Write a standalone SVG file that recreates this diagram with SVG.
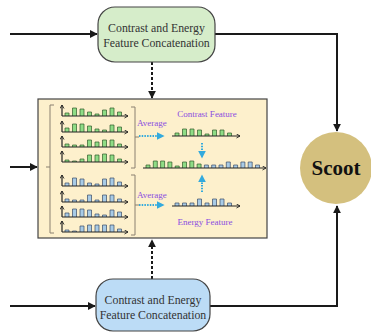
<svg xmlns="http://www.w3.org/2000/svg" width="371" height="333" viewBox="0 0 371 333">
<style>
.line{fill:none;stroke:#1a1a1a;stroke-width:2}
.dash{fill:none;stroke:#1a1a1a;stroke-width:2;stroke-dasharray:3 2}
.ax{fill:none;stroke:#222;stroke-width:1.2}
.gb{fill:#8fdc86;stroke:#2f5a2a;stroke-width:0.7}
.bb{fill:#a8cbe6;stroke:#3a4a66;stroke-width:0.7}
.brk{fill:none;stroke:#8a8070;stroke-width:1}
.dot{fill:none;stroke:#33aadd;stroke-width:2;stroke-dasharray:1.5 1.2}
.nt{font-family:"Liberation Serif",serif;font-size:11.8px;fill:#333;text-anchor:middle}
.pt{font-family:"Liberation Serif",serif;font-size:9px;fill:#8a4de0}
</style>
<defs>
<marker id="ah" viewBox="0 0 10 10" refX="9" refY="5" markerWidth="4" markerHeight="4" orient="auto"><path d="M0,0 L10,5 L0,10 Z" fill="#1a1a1a"/></marker>
<marker id="sh" viewBox="0 0 10 10" refX="8" refY="5" markerWidth="5" markerHeight="5" orient="auto" markerUnits="userSpaceOnUse"><path d="M1,1 L8,5 L1,9" fill="none" stroke="#222" stroke-width="1.8"/></marker>
<marker id="bh" viewBox="0 0 10 10" refX="8" refY="5" markerWidth="4" markerHeight="4" orient="auto"><path d="M0,0 L10,5 L0,10 Z" fill="#33aadd"/></marker>
</defs>

<g id="connectors">
<path class="line" d="M10,34 H97" marker-end="url(#ah)"/>
<path class="line" d="M215,34 H337 V131" marker-end="url(#ah)"/>
<path class="line" d="M10,306 H95" marker-end="url(#ah)"/>
<path class="line" d="M210,306 H337 V206" marker-end="url(#ah)"/>
<path class="line" d="M10,167 H37" marker-end="url(#ah)"/>
<path class="dash" d="M152,62 V98" marker-end="url(#ah)"/>
<path class="dash" d="M152,279 V240" marker-end="url(#ah)"/>
</g>

<g id="node-top">
<rect x="98" y="7" width="117" height="55" rx="17" fill="#d6edca" stroke="#444" stroke-width="1.2"/>
<text class="nt" x="156.5" y="32">Contrast and Energy</text>
<text class="nt" x="156.5" y="47">Feature Concatenation</text>
</g>

<g id="node-bottom">
<rect x="96" y="279" width="114" height="52" rx="17" fill="#bcdcf6" stroke="#444" stroke-width="1.2"/>
<text class="nt" x="153" y="304">Contrast and Energy</text>
<text class="nt" x="153" y="319">Feature Concatenation</text>
</g>

<g id="node-scoot">
<circle cx="336" cy="168" r="36" fill="#d4c07e"/>
<text x="336" y="175" font-family="Liberation Serif,serif" font-size="21" font-weight="bold" fill="#111" text-anchor="middle">Scoot</text>
</g>

<g id="node-features">
<rect x="38" y="99" width="229" height="139" fill="#fdf0cc" stroke="#444" stroke-width="1.2"/>
<path class="brk" d="M54,105 H50 V233 H54 M46,167 H50"/>
<path class="brk" d="M131,107 H135 V168 H131 M135,137 H139"/>
<path class="brk" d="M131,175 H135 V235 H131 M135,205 H139"/>

<g id="g1">
<path class="gb" d="M65,116 v-3 h4 v3 M72.5,116 v-8 h4 v8 M80,116 v-7 h4 v7 M87.5,116 v-4 h4 v4 M95,116 v-2 h4 v2 M102.5,116 v-6 h4 v6 M110,116 v-8 h4 v8 M117.5,116 v-4 h4 v4"/>
<path class="ax" d="M62,116 V105" marker-end="url(#sh)"/><path class="ax" d="M62,116 H128" marker-end="url(#sh)"/>
</g>
<g id="g2">
<path class="gb" d="M65,132 v-4 h4 v4 M72.5,132 v-8 h4 v8 M80,132 v-8 h4 v8 M87.5,132 v-6 h4 v6 M95,132 v-3 h4 v3 M102.5,132 v-2 h4 v2 M110,132 v-7 h4 v7 M117.5,132 v-5 h4 v5"/>
<path class="ax" d="M62,132 V121" marker-end="url(#sh)"/><path class="ax" d="M62,132 H128" marker-end="url(#sh)"/>
</g>
<g id="g3">
<path class="gb" d="M65,147 v-3 h4 v3 M72.5,147 v-2 h4 v2 M80,147 v-2 h4 v2 M87.5,147 v-7 h4 v7 M95,147 v-5 h4 v5 M102.5,147 v-7 h4 v7 M110,147 v-7 h4 v7 M117.5,147 v-3 h4 v3"/>
<path class="ax" d="M62,147 V136" marker-end="url(#sh)"/><path class="ax" d="M62,147 H128" marker-end="url(#sh)"/>
</g>
<g id="g4">
<path class="gb" d="M65,162 v-2 h4 v2 M72.5,162 v-1 h4 v1 M80,162 v-3 h4 v3 M87.5,162 v-7 h4 v7 M95,162 v-7 h4 v7 M102.5,162 v-8 h4 v8 M110,162 v-7 h4 v7 M117.5,162 v-3 h4 v3"/>
<path class="ax" d="M62,162 V151" marker-end="url(#sh)"/><path class="ax" d="M62,162 H128" marker-end="url(#sh)"/>
</g>
<g id="b1">
<path class="bb" d="M65,186 v-3 h4 v3 M72.5,186 v-8 h4 v8 M80,186 v-7 h4 v7 M87.5,186 v-3 h4 v3 M95,186 v-2 h4 v2 M102.5,186 v-7 h4 v7 M110,186 v-8 h4 v8 M117.5,186 v-4 h4 v4"/>
<path class="ax" d="M62,186 V175" marker-end="url(#sh)"/><path class="ax" d="M62,186 H128" marker-end="url(#sh)"/>
</g>
<g id="b2">
<path class="bb" d="M65,202 v-3 h4 v3 M72.5,202 v-2 h4 v2 M80,202 v-2 h4 v2 M87.5,202 v-7 h4 v7 M95,202 v-2 h4 v2 M102.5,202 v-7 h4 v7 M110,202 v-7 h4 v7 M117.5,202 v-3 h4 v3"/>
<path class="ax" d="M62,202 V191" marker-end="url(#sh)"/><path class="ax" d="M62,202 H128" marker-end="url(#sh)"/>
</g>
<g id="b3">
<path class="bb" d="M65,217 v-4 h4 v4 M72.5,217 v-8 h4 v8 M80,217 v-8 h4 v8 M87.5,217 v-7 h4 v7 M95,217 v-3 h4 v3 M102.5,217 v-2 h4 v2 M110,217 v-7 h4 v7 M117.5,217 v-5 h4 v5"/>
<path class="ax" d="M62,217 V206" marker-end="url(#sh)"/><path class="ax" d="M62,217 H128" marker-end="url(#sh)"/>
</g>
<g id="b4">
<path class="bb" d="M65,232 v-2 h4 v2 M72.5,232 v-1 h4 v1 M80,232 v-6 h4 v6 M87.5,232 v-7 h4 v7 M95,232 v-7 h4 v7 M102.5,232 v-7 h4 v7 M110,232 v-7 h4 v7 M117.5,232 v-3 h4 v3"/>
<path class="ax" d="M62,232 V221" marker-end="url(#sh)"/><path class="ax" d="M62,232 H128" marker-end="url(#sh)"/>
</g>

<text class="pt" x="137" y="126">Average</text>
<path class="dot" d="M139,136 H163" marker-end="url(#bh)"/>
<text class="pt" x="137" y="198">Average</text>
<path class="dot" d="M139,205 H163" marker-end="url(#bh)"/>
<text class="pt" x="207" y="117" text-anchor="middle">Contrast Feature</text>
<text class="pt" x="205" y="225" text-anchor="middle">Energy Feature</text>

<path class="gb" d="M175,136 v-3 h4 v3 M182.5,136 v-7 h4 v7 M190,136 v-7 h4 v7 M197.5,136 v-6 h4 v6 M205,136 v-2 h4 v2 M212.5,136 v-6 h4 v6 M220,136 v-6 h4 v6 M227.5,136 v-3 h4 v3"/>
<path class="ax" d="M172,136 H240" marker-end="url(#sh)"/>
<path class="bb" d="M175,206 v-3 h4 v3 M182.5,206 v-3 h4 v3 M190,206 v-3 h4 v3 M197.5,206 v-7 h4 v7 M205,206 v-3 h4 v3 M212.5,206 v-7 h4 v7 M220,206 v-7 h4 v7 M227.5,206 v-3 h4 v3"/>
<path class="ax" d="M172,206 H240" marker-end="url(#sh)"/>

<path class="dot" d="M202,143 V157" marker-end="url(#bh)"/>
<path class="dot" d="M202,192 V176" marker-end="url(#bh)"/>

<path class="gb" d="M146,168 v-3 h4 v3 M153.3,168 v-7 h4 v7 M160.6,168 v-7 h4 v7 M167.9,168 v-6 h4 v6 M175.2,168 v-2 h4 v2 M182.5,168 v-6 h4 v6 M189.8,168 v-7 h4 v7 M197.1,168 v-4 h4 v4"/>
<path class="bb" d="M204.4,168 v-3 h4 v3 M211.7,168 v-3 h4 v3 M219,168 v-3 h4 v3 M226.3,168 v-6 h4 v6 M233.6,168 v-3 h4 v3 M240.9,168 v-6 h4 v6 M248.2,168 v-6 h4 v6 M255.5,168 v-3 h4 v3"/>
<path class="ax" d="M143,168 H266" marker-end="url(#sh)"/>
</g>
</svg>
